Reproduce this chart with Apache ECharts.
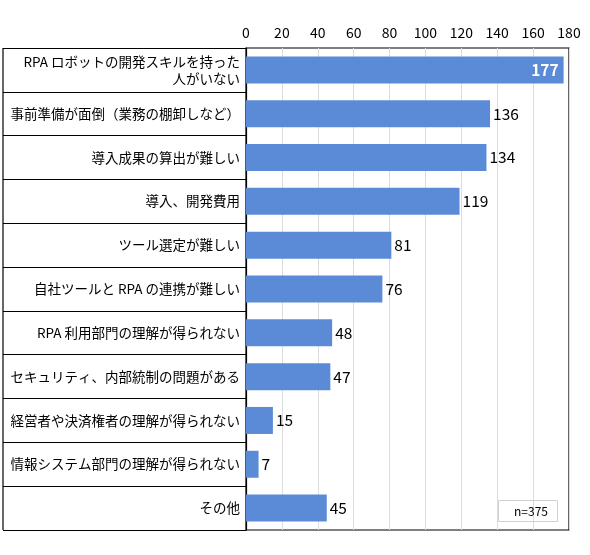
<!DOCTYPE html>
<html><head><meta charset="utf-8">
<script src="https://cdn.jsdelivr.net/npm/echarts@6/dist/echarts.min.js"></script>
<style>html,body{margin:0;padding:0;background:#fff}#c{width:590px;height:555px}</style>
</head><body><div id="c"></div>
<script>
const categories = [
  'RPA ロボットの開発スキルを持った\n人がいない',
  '事前準備が面倒（業務の棚卸しなど）',
  '導入成果の算出が難しい',
  '導入、開発費用',
  'ツール選定が難しい',
  '自社ツールと RPA の連携が難しい',
  'RPA 利用部門の理解が得られない',
  'セキュリティ、内部統制の問題がある',
  '経営者や決済権者の理解が得られない',
  '情報システム部門の理解が得られない',
  'その他'
];
const values = [177, 136, 134, 119, 81, 76, 48, 47, 15, 7, 45];
const xTicks = { min: 0, max: 180, interval: 20 };
const noteText = 'n=375';

const FONT = '"Noto Sans CJK JP", "Noto Sans", sans-serif';
const chart = echarts.init(document.getElementById('c'));
const data = values.map((v, i) => i === 0 ? {
  value: v,
  label: { position: 'insideRight', color: '#fff', fontWeight: 'bold', offset: [-2, 0] }
} : v);

chart.setOption({
  animation: false,
  grid: { left: 246, right: 21, top: 48, bottom: 25, show: true, borderColor: '#000', borderWidth: 1.2, backgroundColor: 'transparent' },
  xAxis: {
    type: 'value', position: 'top', min: xTicks.min, max: xTicks.max, interval: xTicks.interval,
    axisLine: { show: false }, axisTick: { show: false },
    axisLabel: { fontFamily: FONT, fontSize: 14, color: '#000', margin: 8 },
    splitLine: { show: true, lineStyle: { color: '#dcdcdc', width: 1 } }
  },
  yAxis: {
    type: 'category', data: categories, inverse: true,
    axisLine: { show: true, lineStyle: { color: '#000', width: 1.2 } },
    axisTick: { show: true, length: 243, lineStyle: { color: '#000', width: 1.2 } },
    axisLabel: { fontFamily: FONT, fontSize: 13.5, color: '#000', margin: 6, lineHeight: 17, align: 'right' },
    splitLine: { show: false }
  },
  series: [{
    type: 'bar', data: data, barWidth: 27,
    itemStyle: { color: '#5B8BD7' },
    label: { show: true, position: 'right', distance: 3, fontFamily: FONT, fontSize: 15.5, color: '#000' }
  }],
  title: {
    text: noteText, right: 32, bottom: 33,
    borderColor: '#d0d0d0', borderWidth: 1, padding: [5, 10, 5, 16],
    textStyle: { fontFamily: FONT, fontSize: 12, fontWeight: 'normal', color: '#000' }
  },
  graphic: [{
    type: 'line', z: 10,
    shape: { x1: 3, y1: 48, x2: 3, y2: 530 },
    style: { stroke: '#000', lineWidth: 1.2 }
  }]
});
</script></body></html>
